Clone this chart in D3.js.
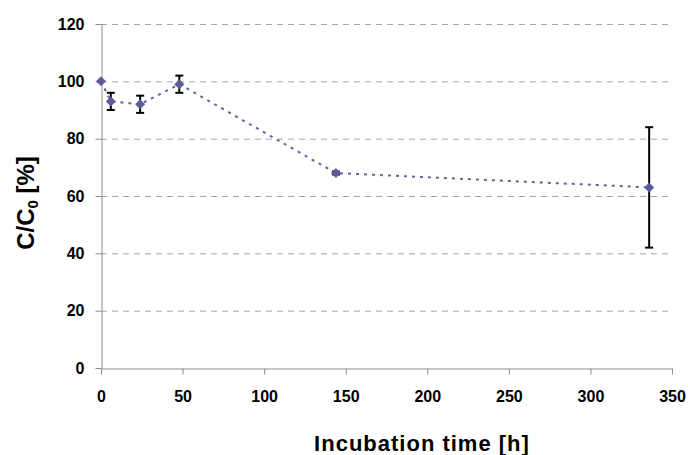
<!DOCTYPE html>
<html>
<head>
<meta charset="utf-8">
<script src="https://cdn.jsdelivr.net/npm/d3@7"></script>
<style>
  html, body { margin: 0; padding: 0; background: #fff; }
  svg text { font-family: "Liberation Sans", Arial, sans-serif; font-weight: bold; fill: #000; }
</style>
</head>
<body>
<svg id="chart" width="688" height="455"></svg>
<script>
// Incubation times (h), remaining concentration C/C0 (%) and its error
const times = [0, 6, 24, 48, 144, 336];
const ratios = [100, 93, 92, 99, 68, 63];
const errors = [0, 3, 3, 3, 0.5, 21];
const xTicks = [0, 50, 100, 150, 200, 250, 300, 350];
const yTicks = [0, 20, 40, 60, 80, 100, 120];

const data = times.map((t, i) => ({ t, v: ratios[i], e: errors[i] }));

const svg = d3.select("#chart");
const plotLeft = 101, plotRight = 672, plotTop = 24, plotBottom = 368;

const x = d3.scaleLinear().domain([0, 350]).range([plotLeft, plotRight]);
const y = d3.scaleLinear().domain([0, 120]).range([plotBottom, plotTop]);

// dashed horizontal gridlines
svg.append("g")
  .selectAll("line")
  .data(yTicks.filter(d => d > 0))
  .join("line")
  .attr("x1", plotLeft).attr("x2", plotRight)
  .attr("y1", d => y(d) + 0.5).attr("y2", d => y(d) + 0.5)
  .attr("stroke", "#a6a6a6")
  .attr("stroke-width", 1)
  .attr("stroke-dasharray", "6,5");

// y axis
const yAxis = svg.append("g")
  .attr("transform", `translate(${plotLeft + 0.5},0)`)
  .call(d3.axisLeft(y).tickValues(yTicks).tickSize(6).tickSizeOuter(0).tickPadding(11));
yAxis.select(".domain").attr("stroke", "#8c8c8c");
yAxis.selectAll(".tick line").attr("stroke", "#8c8c8c");
yAxis.selectAll(".tick text").style("font-size", "16px");

// x axis
const xAxis = svg.append("g")
  .attr("transform", `translate(0,${plotBottom + 0.5})`)
  .call(d3.axisBottom(x).tickValues(xTicks).tickSize(6).tickSizeOuter(0).tickPadding(16));
xAxis.select(".domain").attr("stroke", "#8c8c8c");
xAxis.selectAll(".tick line").attr("stroke", "#8c8c8c");
xAxis.selectAll(".tick text").style("font-size", "16px");

// connecting dotted line
svg.append("path")
  .datum(data)
  .attr("fill", "none")
  .attr("stroke", "#6464a0")
  .attr("stroke-width", 2)
  .attr("stroke-dasharray", "3,5")
  .attr("d", d3.line().x(d => x(d.t)).y(d => y(d.v)));

// error bars
const eb = svg.append("g").attr("stroke", "#000").attr("stroke-width", 2);
data.filter(d => d.e > 0).forEach(d => {
  const cx = x(d.t);
  eb.append("line").attr("x1", cx).attr("x2", cx).attr("y1", y(d.v + d.e)).attr("y2", y(d.v - d.e));
  [d.v + d.e, d.v - d.e].forEach(v => {
    eb.append("line").attr("x1", cx - 4).attr("x2", cx + 4).attr("y1", y(v)).attr("y2", y(v));
  });
});

// diamond markers
const r = 5;
svg.append("g")
  .selectAll("path")
  .data(data)
  .join("path")
  .attr("transform", d => `translate(${x(d.t)},${y(d.v)})`)
  .attr("d", `M0,${-r}L${r},0L0,${r}L${-r},0Z`)
  .attr("fill", "#5c5c98");

// axis titles
svg.append("text")
  .attr("x", 422)
  .attr("y", 451)
  .attr("text-anchor", "middle")
  .style("font-size", "22px")
  .style("letter-spacing", "1px")
  .text("Incubation time [h]");

const yt = svg.append("text")
  .attr("transform", `translate(34,203) rotate(-90)`)
  .attr("text-anchor", "middle")
  .style("font-size", "24px");
yt.append("tspan").text("C/C");
yt.append("tspan").attr("dy", 4).style("font-size", "15px").text("0");
yt.append("tspan").attr("dy", -4).text(" [%]");
</script>
</body>
</html>
